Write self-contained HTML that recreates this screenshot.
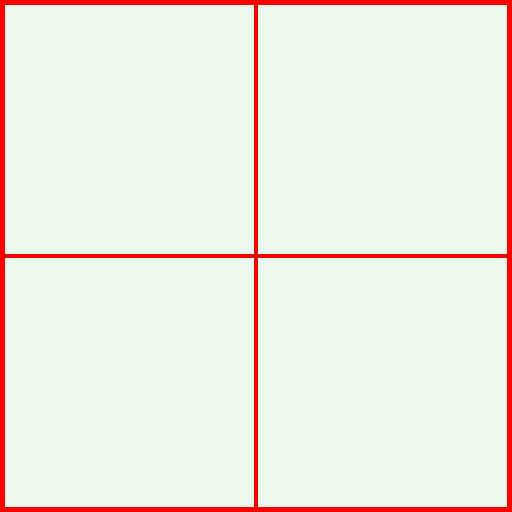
<!DOCTYPE html>
<html><head><style>
html,body{margin:0;padding:0;}
body{width:512px;height:512px;background:#eff8ee;position:relative;overflow:hidden;}
.b{position:absolute;background:#ff0000;}
</style></head>
<body>
<div class="b" style="left:0;top:0;width:512px;height:5px"></div>
<div class="b" style="left:0;top:507px;width:512px;height:5px"></div>
<div class="b" style="left:0;top:0;width:5px;height:512px"></div>
<div class="b" style="left:507px;top:0;width:5px;height:512px"></div>
<div class="b" style="left:0;top:254px;width:512px;height:4px"></div>
<div class="b" style="left:254px;top:0;width:4px;height:512px"></div>
</body></html>
